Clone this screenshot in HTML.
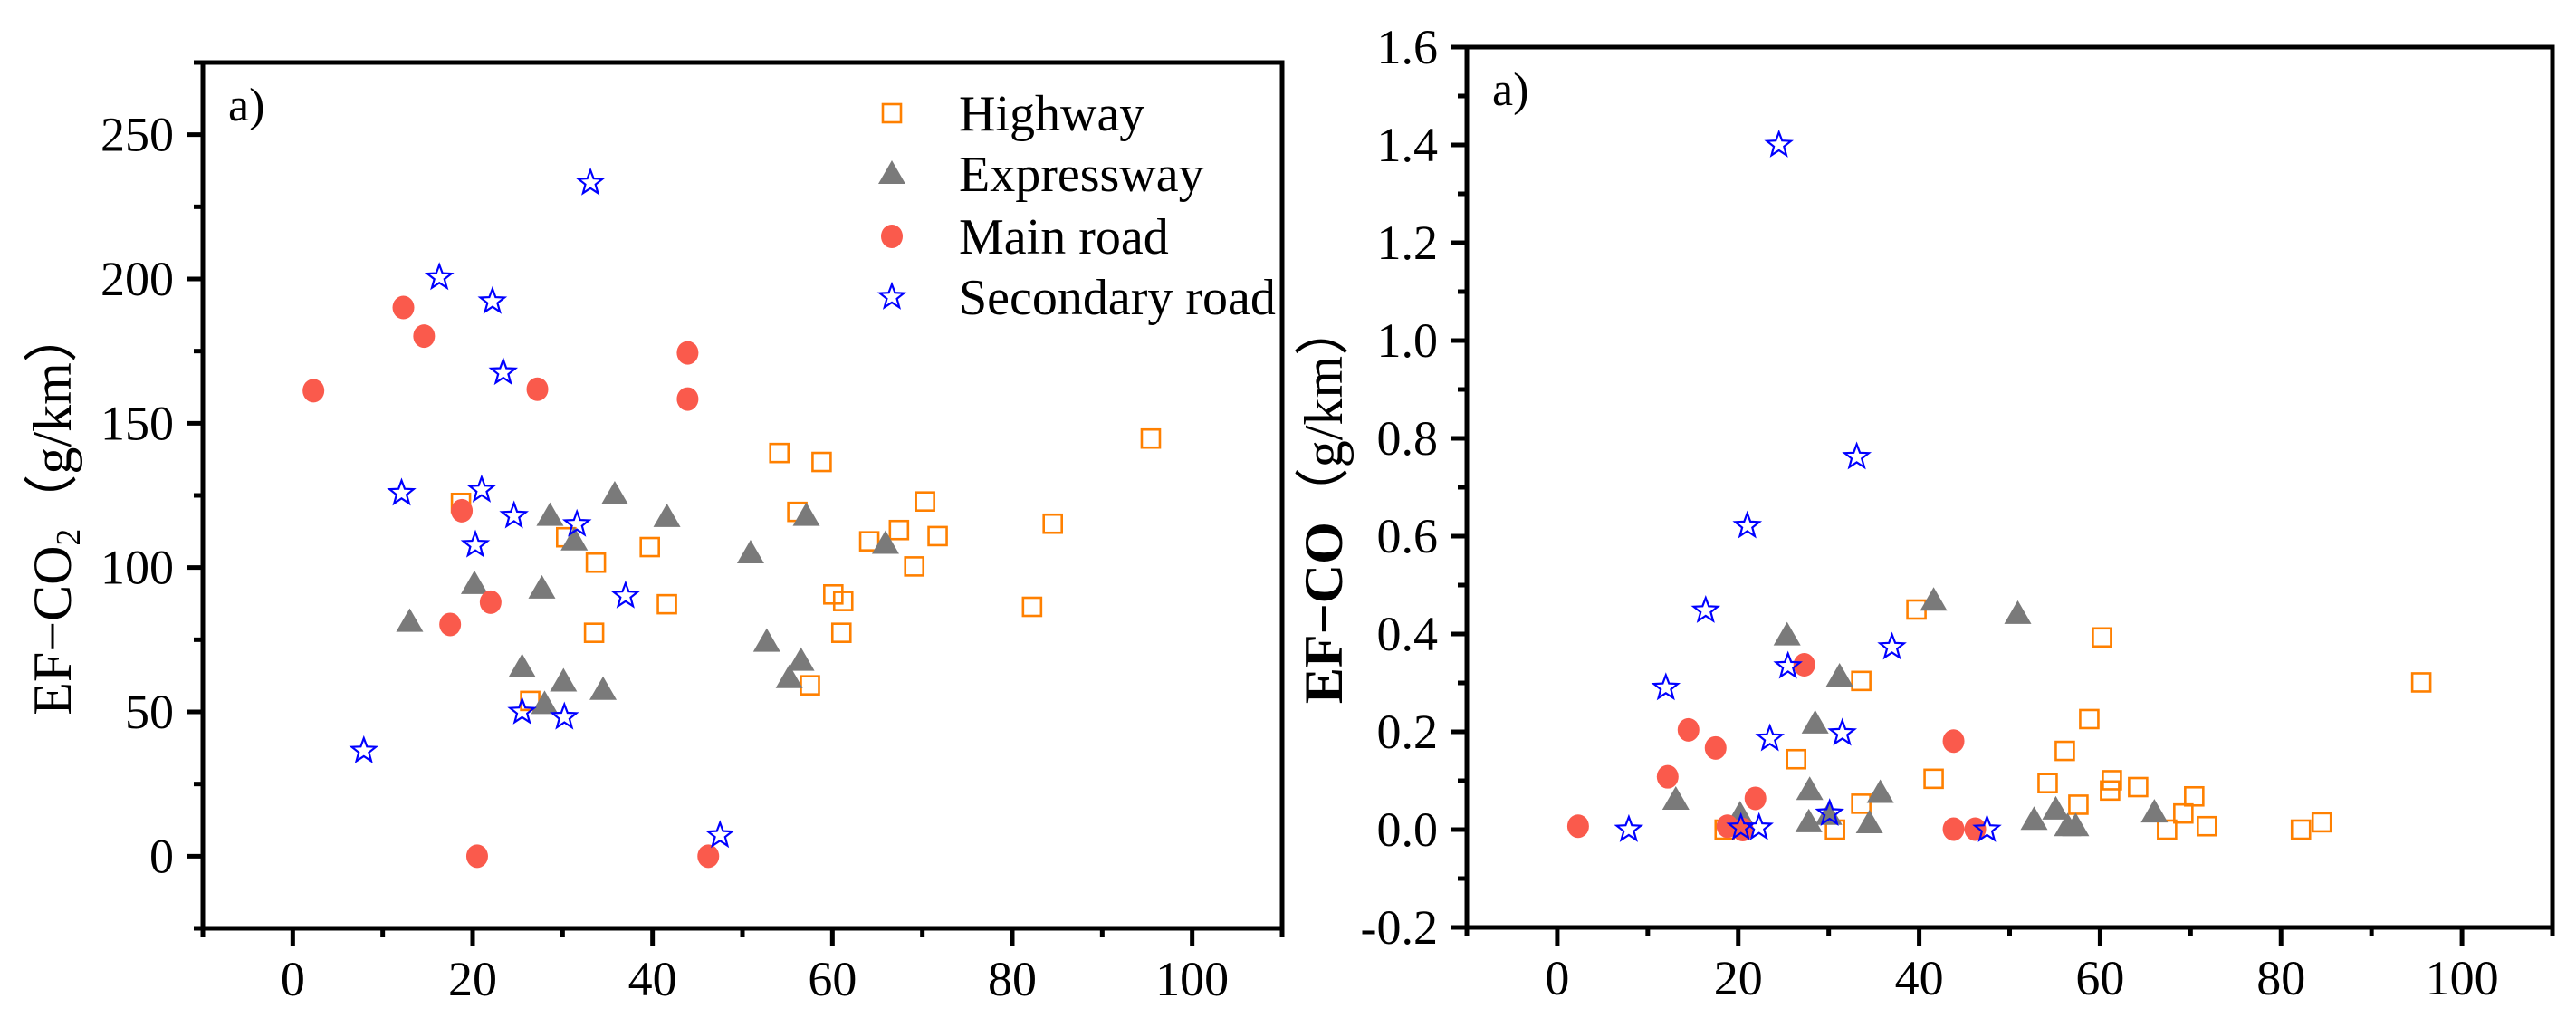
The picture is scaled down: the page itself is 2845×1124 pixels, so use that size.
<!DOCTYPE html>
<html><head><meta charset="utf-8">
<style>
html,body{margin:0;padding:0;background:#fff;}
svg{display:block;font-family:"Liberation Serif","Times New Roman",Times,serif;}
svg text{font-family:"Liberation Serif","Times New Roman",Times,serif;fill:#000;}
</style></head>
<body>
<svg id="fig" width="2845" height="1124" viewBox="0 0 2845 1124" font-family="Liberation Serif, Times New Roman, serif" xmlns="http://www.w3.org/2000/svg"></svg>
<script>
// ---- data: left chart (EF-CO2) ----
const hwX1 = [18.7,54.1,58.8,56.1,30.4,33.7,39.7,41.6,33.5,26.4,57.5,60.1,61.2,61.0,64.1,67.4,69.1,70.3,71.7,82.2,84.5,95.4];
const hwY1 = [122.4,139.7,136.6,119.3,110.5,101.7,107.1,87.3,77.4,53.8,59.2,90.7,88.4,77.4,109.1,113.0,100.4,122.9,110.9,86.4,115.2,144.7];
const exX1 = [13.0,20.2,25.5,28.0,27.7,28.6,30.1,31.3,34.5,35.8,41.6,50.9,52.7,55.2,56.5,57.1,65.9];
const exY1 = [81.2,94.3,65.5,52.7,92.7,117.9,60.5,109.4,57.6,125.3,117.5,104.9,74.3,61.7,67.7,117.9,108.2];
const mrX1 = [2.3,12.3,14.6,17.5,18.8,22.0,20.5,27.2,43.9,43.9,46.2];
const mrY1 = [161.3,190.1,180.2,80.3,119.7,88.0,0,161.8,174.4,158.4,0];
const srX1 = [7.9,12.1,16.3,21.0,20.3,22.2,23.4,24.6,25.5,30.2,31.6,33.1,37.0,47.5];
const srY1 = [36.5,125.8,200.5,126.9,107.8,192.2,167.6,117.9,50.0,48.2,115.0,233.3,90.2,7.2];
// ---- data: right chart (EF-CO) ----
const hwX2 = [18.5,26.4,30.7,33.6,33.6,39.7,41.6,54.2,56.1,57.6,58.8,60.2,61.1,61.3,64.2,67.4,69.2,70.4,71.8,82.2,84.5,95.5];
const hwY2 = [0,0.144,0,0.304,0.053,0.45,0.104,0.095,0.161,0.051,0.226,0.393,0.08,0.101,0.087,0,0.033,0.068,0.007,0,0.015,0.301];
const exX2 = [13.1,20.2,25.4,27.8,27.9,28.5,30.0,31.2,34.5,35.7,41.6,50.9,52.7,55.1,56.4,57.3,66.0];
const exY2 = [0.061,0.031,0.397,0.015,0.081,0.217,0.03,0.313,0.013,0.075,0.468,0.441,0.02,0.041,0.007,0.007,0.035];
const mrX2 = [2.3,12.2,14.5,17.5,18.8,20.5,21.9,27.3,43.8,43.8,46.2];
const mrY2 = [0.007,0.108,0.204,0.167,0.007,0.0,0.064,0.337,0.181,0.001,0.001];
const srX2 = [7.9,12.0,16.4,21.0,20.3,22.3,23.5,24.5,25.5,30.1,31.5,33.1,37.0,47.5];
const srY2 = [0,0.290,0.448,0.621,0.004,0.004,0.186,1.400,0.334,0.033,0.197,0.762,0.373,0];
// ---- ticks ----
const xTicks = [0,20,40,60,80,100];
const yTicks1 = [0,50,100,150,200,250];
const yTickLabels2 = ["-0.2","0.0","0.2","0.4","0.6","0.8","1.0","1.2","1.4","1.6"];
const yTicks2 = [-0.2,0,0.2,0.4,0.6,0.8,1.0,1.2,1.4,1.6];
const legendLabels = ["Highway","Expressway","Main road","Secondary road"];

const NS = "http://www.w3.org/2000/svg";
const FF = '"Liberation Serif","Times New Roman",serif';
const svg = document.getElementById('fig');
function mk(tag, attrs, parent){
  const e = document.createElementNS(NS, tag);
  for (const k in attrs) e.setAttribute(k, attrs[k]);
  if (tag==='text') e.setAttribute('style','font-family:'+FF);
  (parent||svg).appendChild(e);
  return e;
}
const C_HW="#FF8000", C_EX="#7a7a7a", C_MR="#FA5A4C", C_SR="#0000FF";

function starPath(cx, cy, R){
  const r = R*0.42; let d="";
  for(let i=0;i<10;i++){
    const a = -Math.PI/2 + i*Math.PI/5;
    const rr = i%2===0?R:r;
    d += (i===0?"M":"L") + (cx+rr*Math.cos(a)).toFixed(1)+","+(cy+rr*Math.sin(a)).toFixed(1);
  }
  return d+"Z";
}
function drawSquare(g,x,y){ const e=mk('rect',{x:x-10,y:y-10,width:20,height:20,fill:'none',stroke:C_HW,'stroke-width':2.6},g);
    }
function drawTri(g,x,y){ const e=mk('path',{d:`M${x},${y-15}L${x+15},${y+11}L${x-15},${y+11}Z`,fill:C_EX},g);
    }
function drawCircle(g,x,y){ const e=mk('ellipse',{cx:x,cy:y,rx:12,ry:13,fill:C_MR},g);
    }
function drawStar(g,x,y){ const e=mk('path',{d:starPath(x,y,14),fill:'none',stroke:C_SR,'stroke-width':2.2,'stroke-linejoin':'miter'},g);
    }

function chart(opt){
  const g = mk('g',{});
  
  
  const {L,R,T,B,xMin,xMax,yMin,yMax} = opt;
  const sx = v => L + (v-xMin)/(xMax-xMin)*(R-L);
  const sy = v => B - (v-yMin)/(yMax-yMin)*(B-T);
  const fr = mk('rect',{x:L,y:T,width:R-L,height:B-T,fill:'none',stroke:'#000','stroke-width':5},g);
   
  for(let v=-10; v<=110; v+=10){
    const major = xTicks.includes(v);
    const t = mk('line',{x1:sx(v),x2:sx(v),y1:B,y2:B+(major?20:10),stroke:'#000','stroke-width':5},g);
     
  }
  xTicks.forEach(v=>{
    const t = mk('text',{x:sx(v),y:B+74,'text-anchor':'middle','font-size':54},g);
    t.textContent = v;
     
  });
  for(let i=0;i<opt.minor.length;i++){
    const v = opt.minor[i];
    const t = mk('line',{x1:L-10,x2:L,y1:sy(v),y2:sy(v),stroke:'#000','stroke-width':5},g);
     
  }
  opt.yTicks.forEach((v,i)=>{
    const t = mk('line',{x1:L-18,x2:L,y1:sy(v),y2:sy(v),stroke:'#000','stroke-width':5},g);
     
    const tl = mk('text',{x:L-32,y:sy(v)+18,'text-anchor':'end','font-size':54},g);
    tl.textContent = opt.yLabels[i];
     
  });
  const pl = mk('text',{x:L+28,y:T+64,'font-size':52},g);
  pl.textContent = 'a)';
   
  const yt = mk('text',{transform:`translate(${opt.ytX},${opt.ytY}) rotate(-90)`,'text-anchor':'middle','font-size':60},g);
   
  const s1 = mk('tspan',{'font-weight':opt.bold?'bold':'normal'},yt); s1.textContent = opt.ytMain;
  if(opt.sub){ const s2 = mk('tspan',{'font-size':38,dy:10},yt); s2.textContent = opt.sub;
    const s3 = mk('tspan',{dy:-10},yt); s3.textContent='（g/km）'; }
  else { const s3 = mk('tspan',{},yt); s3.textContent='（g/km）'; }
  const pts = mk('g',{},g);
   
  opt.hwX.forEach((x,i)=>drawSquare(pts,sx(x),sy(opt.hwY[i])));
  opt.exX.forEach((x,i)=>drawTri(pts,sx(x),sy(opt.exY[i])));
  opt.mrX.forEach((x,i)=>drawCircle(pts,sx(x),sy(opt.mrY[i])));
  opt.srX.forEach((x,i)=>drawStar(pts,sx(x),sy(opt.srY[i])));
  return g;
}
const minor1=[]; for(let v=-25; v<=275; v+=25) if(!yTicks1.includes(v)) minor1.push(v);
const minor2=[]; for(let k=-1; k<=15; k+=2) minor2.push(k/10);
chart({name:'co2-chart',L:224,R:1416,T:69,B:1025,xMin:-10,xMax:110,yMin:-25,yMax:275,
  yTicks:yTicks1,yLabels:yTicks1.map(String),minor:minor1,ytX:78,ytY:565,ytMain:'EF−CO',sub:'2',bold:false,
  hwX:hwX1,hwY:hwY1,exX:exX1,exY:exY1,mrX:mrX1,mrY:mrY1,srX:srX1,srY:srY1});
chart({name:'co-chart',L:1620,R:2819,T:52,B:1024,xMin:-10,xMax:110,yMin:-0.2,yMax:1.6,
  yTicks:yTicks2,yLabels:yTickLabels2,minor:minor2,ytX:1482,ytY:555,ytMain:'EF−CO',sub:null,bold:true,
  hwX:hwX2,hwY:hwY2,exX:exX2,exY:exY2,mrX:mrX2,mrY:mrY2,srX:srX2,srY:srY2});
const lg = mk('g',{});


const ly=[125,192,261,328];
drawSquare(lg,985,ly[0]); drawTri(lg,985,ly[1]); drawCircle(lg,985,ly[2]); drawStar(lg,985,ly[3]);
legendLabels.forEach((s,i)=>{
  const t = mk('text',{x:1059,y:ly[i]+19,'font-size':56},lg);
  t.textContent = s;
  
  
});
</script>
</body></html>
